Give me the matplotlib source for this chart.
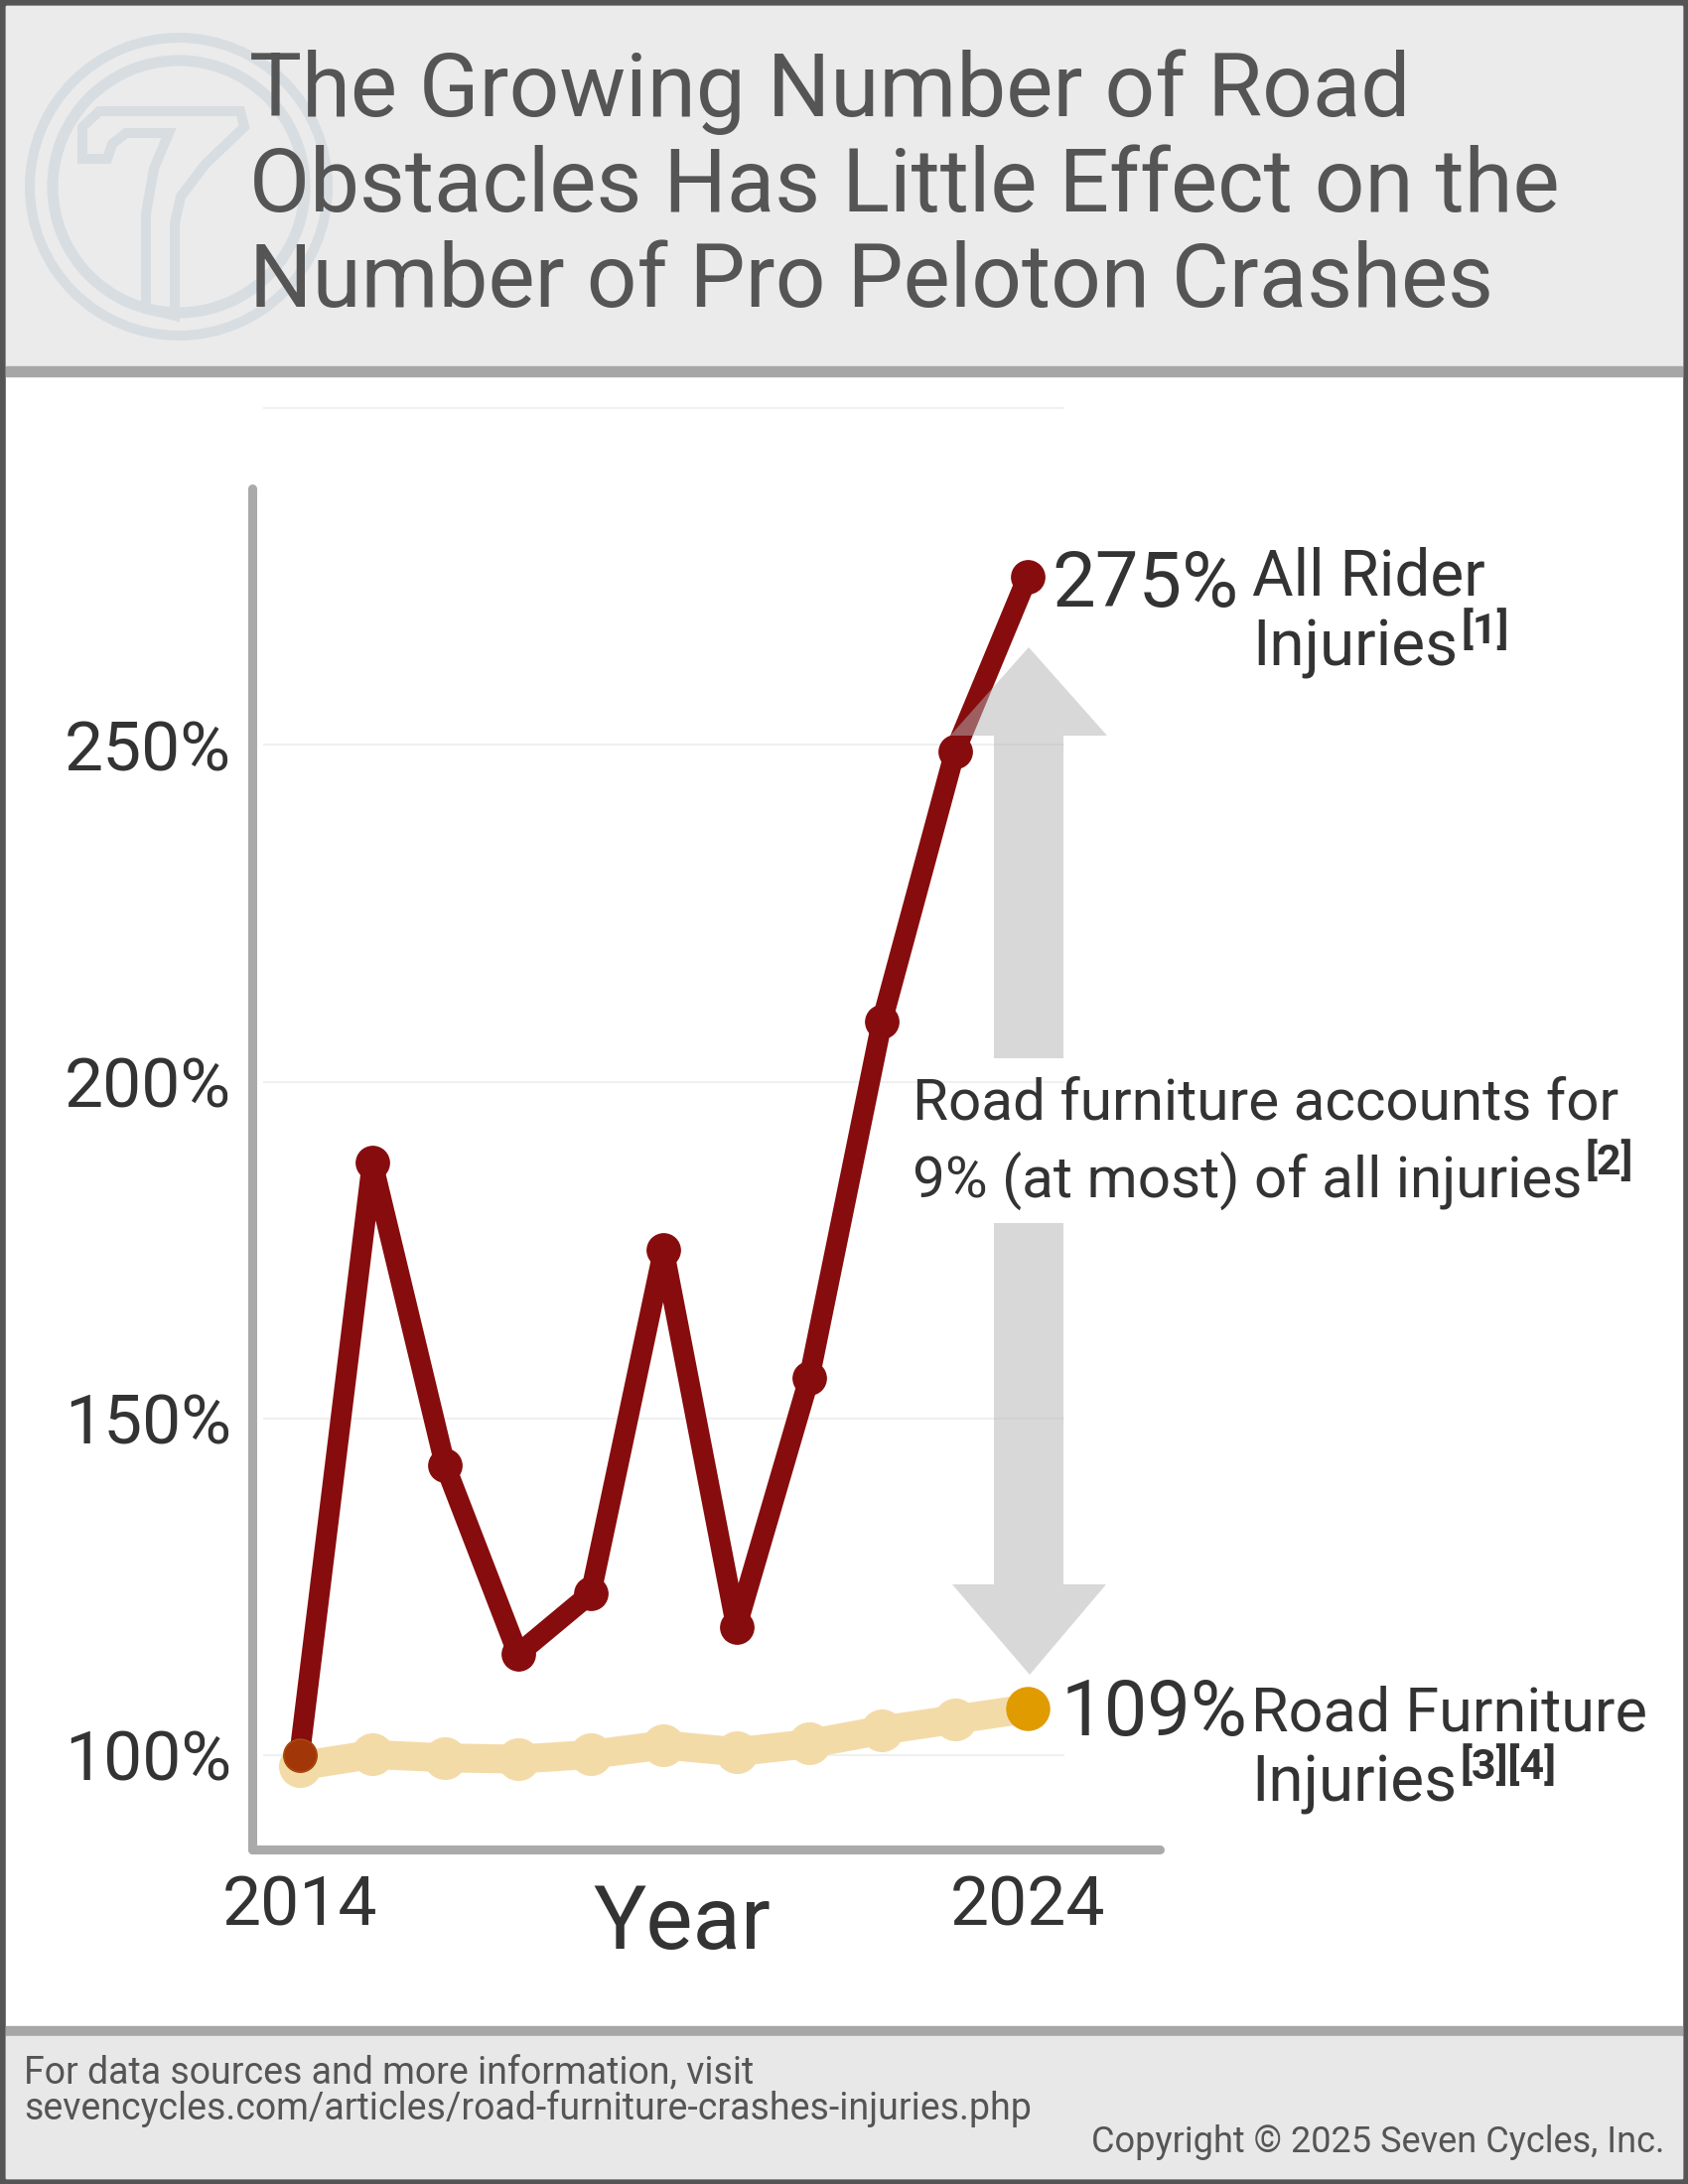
import matplotlib
matplotlib.use('Agg')
from matplotlib import pyplot as plt
from matplotlib.patches import Rectangle, Polygon, Circle

plt.rcParams['font.family'] = ['Roboto', 'DejaVu Sans']

# data (% of 2014 level)
years = list(range(2014, 2025))
all_rider = [100, 188, 143, 115, 124, 175, 119, 156, 209, 249, 275]
road_furniture = [98.4, 100.1, 99.6, 99.4, 100.1, 101.5, 100.5, 101.7, 103.7, 105.3, 106.9]
y_ticks = [100, 150, 200, 250]
y_tick_labels = ['100%', '150%', '200%', '250%']
grid_vals = [100, 150, 200, 250, 300]
x_ticks = [2014, 2024]
x_tick_labels = ['2014', '2024']
end_labels = ['275%', '109%']
title_lines = ['The Growing Number of Road',
               'Obstacles Has Little Effect on the',
               'Number of Pro Peloton Crashes']

red = '#870c0e'
tan = '#f3dba8'
orange = '#e09b00'
txt = '#333333'
grey_txt = '#555555'

W, H = 1700, 2200
fig = plt.figure(figsize=(17, 22), dpi=100, facecolor='#555555')

# background layer in pixel coords
bg = fig.add_axes([0, 0, 1, 1], zorder=0)
bg.set_xlim(0, W)
bg.set_ylim(H, 0)
bg.axis('off')
bg.add_patch(Rectangle((6, 6), W - 12, H - 12, color='white'))
bg.add_patch(Rectangle((6, 6), W - 12, 363, color='#ebebeb'))
bg.add_patch(Rectangle((6, 369), W - 12, 10, color='#a6a6a6'))
bg.add_patch(Rectangle((6, 2041), W - 12, 10, color='#a6a6a6'))
bg.add_patch(Rectangle((6, 2051), W - 12, 143, color='#e8e8e8'))

# logo watermark
logo_c = '#d8dde1'
bg.add_patch(Circle((180, 188), 150, fill=False, ec=logo_c, lw=7.2))
bg.add_patch(Circle((180, 188), 127, fill=False, ec=logo_c, lw=8))
seven = [(83, 160), (83, 128), (100, 112), (242, 112), (246, 128), (207, 165),
         (182, 198), (176, 225), (176, 318), (147, 311), (147, 215), (155, 170),
         (170, 134), (127, 134), (113, 145), (108, 160)]
bg.add_patch(Polygon(seven, closed=True, fill=False, ec=logo_c, lw=7.2,
                     joinstyle='miter'))

for i, line in enumerate(title_lines):
    bg.text(251, 117 + i * 96, line, fontsize=64, color=grey_txt, va='baseline')

bg.text(24, 2099, 'For data sources and more information, visit', fontsize=27,
        color=grey_txt, va='baseline')
bg.text(24, 2135, 'sevencycles.com/articles/road-furniture-crashes-injuries.php',
        fontsize=27, color=grey_txt, va='baseline')
bg.text(1676, 2168, 'Copyright \u00a9 2025 Seven Cycles, Inc.', fontsize=26,
        color=grey_txt, va='baseline', ha='right')

# chart
ax = fig.add_axes([240 / W, 1 - 1880 / H, 940 / W, 1480 / H], zorder=1)
ax.patch.set_alpha(0)
ax.set_xlim(2013.159, 2025.977)
ax.set_ylim(83.49, 301.65)

ax.hlines(grid_vals, 2013.5, 2024.5, color='#f0f0f0', lw=1.5, zorder=0)

ax.plot(years, road_furniture, color=tan, lw=21, marker='o', ms=30,
        solid_joinstyle='round', solid_capstyle='round', zorder=2)
ax.plot(years, all_rider, color=red, lw=15, marker='o', ms=24,
        solid_joinstyle='round', solid_capstyle='round', zorder=3)
ax.plot(years[-1], road_furniture[-1], 'o', color=orange, ms=31, zorder=4)
ax.plot(years[0], all_rider[0], 'o', color=orange, alpha=0.3, ms=24, zorder=4)

for side in ['top', 'right']:
    ax.spines[side].set_visible(False)
ax.spines['left'].set_position(('data', 2013.35))
ax.spines['left'].set_bounds(86.0, 288.1)
ax.spines['bottom'].set_position(('data', 86.0))
ax.spines['bottom'].set_bounds(2013.35, 2025.81)
for side in ['left', 'bottom']:
    ax.spines[side].set_color('#aaaaaa')
    ax.spines[side].set_linewidth(6.5)
    ax.spines[side].set_capstyle('round')

ax.set_yticks(y_ticks, labels=y_tick_labels)
ax.set_xticks(x_ticks, labels=x_tick_labels)
ax.tick_params(axis='y', length=0, pad=15, labelsize=50, labelcolor=txt)
ax.tick_params(axis='x', length=0, pad=18, labelsize=50, labelcolor=txt)

# foreground layer: arrows and labels
fg = fig.add_axes([0, 0, 1, 1], zorder=2)
fg.patch.set_alpha(0)
fg.set_xlim(0, W)
fg.set_ylim(H, 0)
fg.axis('off')

up = [(1036, 652), (1115, 741), (1071, 741), (1071, 1066), (1001, 1066),
      (1001, 741), (957, 741)]
down = [(1001, 1232), (1071, 1232), (1071, 1596), (1114, 1596), (1037, 1687),
        (959, 1596), (1001, 1596)]
for pts in [up, down]:
    fg.add_patch(Polygon(pts, closed=True, fc='#b3b3b3', ec='none', alpha=0.5))

fg.text(687, 1963, 'Year', fontsize=64, color=txt, ha='center', va='baseline')

fg.text(1059, 611, end_labels[0], fontsize=56, color=txt, va='baseline')
fg.text(1069, 1748, end_labels[1], fontsize=56, color=txt, va='baseline')

fg.text(1261, 600, 'All Rider', fontsize=46, color=txt, va='baseline')
t1 = fg.text(1261, 671, 'Injuries', fontsize=46, color=txt, va='baseline')
fg.text(1260, 1744, 'Road Furniture', fontsize=44, color=txt, va='baseline')
t3 = fg.text(1260, 1815, 'Injuries', fontsize=46, color=txt, va='baseline')
fg.text(919, 1127, 'Road furniture accounts for', fontsize=42, color=txt, va='baseline')
t2 = fg.text(919, 1206, '9% (at most) of all injuries', fontsize=42, color=txt,
             va='baseline')

fig.canvas.draw()
r = fig.canvas.get_renderer()
for t, sup, base in [(t1, '[1]', 648), (t2, '[2]', 1183), (t3, '[3][4]', 1792)]:
    x1 = t.get_window_extent(r).x1
    fg.text(x1 + 3, base, sup, fontsize=31, fontweight='bold', color=txt,
            va='baseline')

fig.savefig('out.png', dpi=100, facecolor=fig.get_facecolor())
